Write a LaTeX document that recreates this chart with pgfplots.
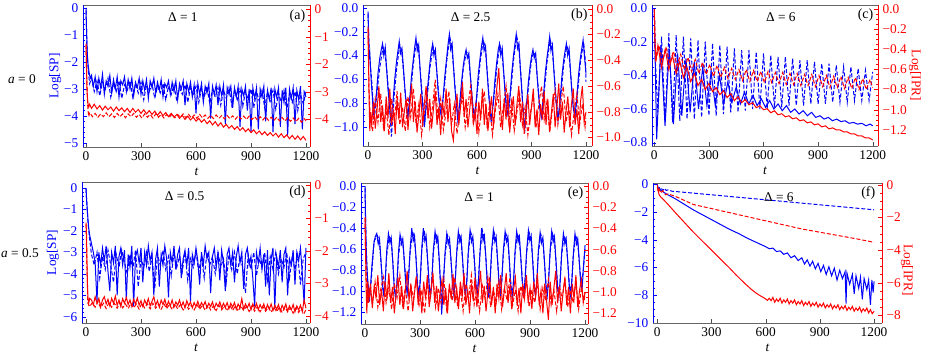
\documentclass[border=0pt]{standalone}
\usepackage{fontspec}
\setmainfont{Liberation Serif}
\usepackage{pgfplots}
\pgfplotsset{compat=1.18}
\pgfkeys{/pgf/number format/1000 sep={}}
\newcommand\mytl[1]{\pgfmathparse{#1<0}\edef\mysgn{\pgfmathresult}\pgfmathparse{abs(#1)}\edef\myabs{\pgfmathresult}\ifdim\mysgn pt>0.5pt\relax −\fi\pgfmathprintnumber[assume math mode=true]{\myabs}}
\pgfplotsset{
  panel/.style={scale only axis, anchor=south west, tick align=inside,
    major tick length=3pt, minor tick length=1.6pt,
    xtick={0,300,600,900,1200}, font=\fontsize{10}{12}\selectfont,
    xticklabel={\mytl{\tick}}, yticklabel={\mytl{\tick}}},
  leftax/.style={panel, separate axis lines,
    x axis line style={draw=black!60}, y axis line style={draw=blue},
    xtick pos=left, ytick pos=left,
    xtick style={black!70}, ytick style={blue}, minor y tick style={blue},
    yticklabel style={blue}, xticklabel style={black}},
  rightax/.style={panel, axis x line=none, axis y line*=right,
    y axis line style={draw=red}, ytick style={red}, minor y tick style={red},
    yticklabel style={red}, xtick=\empty},
  fix1/.style={yticklabel style={/pgf/number format/.cd, fixed, fixed zerofill, precision=1}},
  bs/.style={blue, line width=0.75pt},
  bd/.style={blue, line width=0.75pt, dash pattern=on 3pt off 1.5pt},
  rs/.style={red, line width=0.75pt},
  rd/.style={red, line width=0.75pt, dash pattern=on 3pt off 1.5pt},
  pa/.style={at={(62.25pt,158.25pt)}, width=170.25pt, height=106.5pt, xmin=-16.4, xmax=1221.8},
  pb/.style={at={(272.25pt,159pt)}, width=171.75pt, height=105.75pt, xmin=-27.5, xmax=1233},
  pc/.style={at={(489pt,159pt)}, width=169.5pt, height=105.75pt, xmin=-12.6, xmax=1229},
  pd/.style={at={(61.5pt,26.25pt)}, width=171pt, height=105.75pt, xmin=-21.8, xmax=1222},
  pe/.style={at={(270.75pt,25.5pt)}, width=170.25pt, height=105.75pt, xmin=-21.8, xmax=1216},
  pf/.style={at={(489.75pt,26.25pt)}, width=171.75pt, height=105pt, xmin=-23.8, xmax=1244},
  xl/.style={xlabel={\textit{t}}, x label style={at={(axis description cs:0.5,0)}, anchor=center, yshift=-18.75pt}},
}
\begin{document}
\begin{tikzpicture}
\path[use as bounding box] (0,0) rectangle (694.5pt,268.5pt);
\node[font=\fontsize{10}{12}\selectfont] at (16.5pt,209.25pt) {\textit{a} = 0};
\node[font=\fontsize{10}{12}\selectfont] at (15pt,78.75pt) {\textit{a} = 0.5};

% ---------------- (a)
\begin{axis}[leftax, pa, xl, ymin=-5.15, ymax=0.11, ytick={-5,-4,-3,-2,-1,0}, minor y tick num=4,
  ylabel={Log[SP]}, y label style={blue, at={(axis description cs:-0.123,0.5)}, anchor=center}]
\addplot[bs] coordinates {(0,0)(2,-0.6)(4,-1.1)(6,-1.5)(8,-1.8)(10,-2.0)(13,-2.2)(16,-2.35)(20,-2.5)(25,-2.6)(30,-2.5)
(40,-2.9)(50,-2.55)(60,-3.1)(70,-2.6)(80,-2.95)(90,-2.45)(100,-3.2)(110,-2.7)(120,-2.9)(130,-2.5)(140,-3.15)(150,-2.65)(160,-3.0)(170,-2.55)(180,-3.3)(190,-2.7)(200,-2.85)(210,-2.55)(220,-3.1)(230,-2.65)(240,-3.0)(250,-2.6)(260,-3.25)(270,-2.75)(280,-2.95)(290,-2.6)(300,-3.2)(310,-2.7)(320,-3.05)(330,-2.65)(340,-3.35)(350,-2.7)(360,-2.95)(370,-2.6)(380,-3.15)(390,-2.75)(400,-3.05)(410,-2.65)(420,-3.3)(430,-2.8)(440,-2.95)(450,-2.7)(460,-3.2)(470,-2.75)(480,-3.1)(490,-2.7)(500,-3.4)(510,-2.8)(520,-3.0)(530,-2.7)(540,-3.6)(550,-2.8)(560,-3.1)(570,-2.75)(580,-3.3)(590,-2.85)(600,-3.9)(610,-2.8)(620,-3.2)(630,-2.8)(640,-3.5)(650,-2.9)(660,-3.15)(670,-2.8)(680,-4.1)(690,-2.9)(700,-3.2)(710,-2.85)(720,-3.6)(730,-2.9)(740,-3.25)(750,-2.85)(760,-4.3)(770,-2.95)(780,-3.2)(790,-2.9)(800,-3.7)(810,-2.95)(820,-3.3)(830,-2.9)(840,-4.4)(850,-3.0)(860,-3.25)(870,-2.9)(880,-3.8)(890,-3.0)(900,-4.6)(910,-2.95)(920,-3.35)(930,-2.95)(940,-4.5)(950,-3.0)(960,-3.3)(970,-2.9)(980,-4.2)(990,-3.05)(1000,-3.4)(1010,-2.95)(1020,-4.6)(1030,-3.0)(1040,-3.3)(1050,-2.95)(1060,-4.4)(1070,-3.05)(1080,-3.5)(1090,-2.95)(1100,-4.7)(1110,-3.0)(1120,-3.35)(1130,-2.95)(1140,-4.3)(1150,-3.05)(1160,-3.4)(1170,-2.9)(1180,-4.5)(1190,-3.1)(1200,-3.3)};
\addplot[bd] coordinates {(0,-0.1)(5,-1.3)(10,-2.1)(15,-2.5)(20,-2.8)(30,-2.6)(45,-3.1)(60,-2.7)(75,-3.25)(90,-2.75)(105,-3.0)(120,-2.6)(135,-3.3)(150,-2.8)(165,-3.1)(180,-2.7)(195,-3.35)(210,-2.85)(225,-3.05)(240,-2.7)(255,-3.3)(270,-2.8)(285,-3.15)(300,-2.75)(315,-3.4)(330,-2.85)(345,-3.1)(360,-2.8)(375,-3.35)(390,-2.9)(405,-3.15)(420,-2.8)(435,-3.4)(450,-2.9)(465,-3.2)(480,-2.85)(495,-3.45)(510,-2.95)(525,-3.2)(540,-2.85)(555,-3.5)(570,-2.95)(585,-3.25)(600,-2.9)(615,-3.5)(630,-3.0)(645,-3.3)(660,-2.9)(675,-3.55)(690,-3.0)(705,-3.3)(720,-2.95)(735,-3.6)(750,-3.05)(765,-3.35)(780,-2.95)(795,-3.6)(810,-3.05)(825,-3.4)(840,-3.0)(855,-3.65)(870,-3.1)(885,-3.4)(900,-3.0)(915,-3.7)(930,-3.1)(945,-3.45)(960,-3.05)(975,-3.7)(990,-3.1)(1005,-3.45)(1020,-3.05)(1035,-3.75)(1050,-3.15)(1065,-3.5)(1080,-3.05)(1095,-3.8)(1110,-3.15)(1125,-3.5)(1140,-3.1)(1155,-3.8)(1170,-3.2)(1185,-3.55)(1200,-3.1)};
\node[font=\fontsize{10}{12}\selectfont] at (rel axis cs:0.44,0.915) {Δ = 1};
\node[font=\fontsize{10.5}{12}\selectfont] at (rel axis cs:0.945,0.925) {(a)};
\end{axis}
\begin{axis}[rightax, pa, ymin=-5.0, ymax=0.15, ytick={-4,-3,-2,-1,0}, minor y tick num=4]
\addplot[rs] coordinates {(0,-1.25)(3,-2.2)(6,-3.0)(10,-3.4)(15,-3.55)(20,-3.45)(30,-3.6)(45,-3.45)(60,-3.62)(75,-3.5)(90,-3.66)(105,-3.52)(120,-3.65)(135,-3.55)(150,-3.7)(165,-3.55)(180,-3.68)(195,-3.58)(210,-3.72)(225,-3.6)(240,-3.75)(255,-3.6)(270,-3.74)(285,-3.64)(300,-3.78)(315,-3.65)(330,-3.8)(345,-3.68)(360,-3.82)(375,-3.7)(390,-3.85)(405,-3.72)(420,-3.86)(435,-3.75)(450,-3.9)(465,-3.78)(480,-3.92)(495,-3.82)(510,-3.96)(525,-3.85)(540,-4.0)(555,-3.88)(570,-4.02)(585,-3.92)(600,-4.06)(615,-3.96)(630,-4.1)(645,-4.0)(660,-4.15)(675,-4.05)(690,-4.2)(705,-4.08)(720,-4.24)(735,-4.12)(750,-4.28)(765,-4.18)(780,-4.32)(795,-4.22)(810,-4.36)(825,-4.26)(840,-4.4)(855,-4.3)(870,-4.44)(885,-4.34)(900,-4.48)(915,-4.38)(930,-4.52)(945,-4.42)(960,-4.55)(975,-4.45)(990,-4.58)(1005,-4.48)(1020,-4.6)(1035,-4.5)(1050,-4.64)(1065,-4.52)(1080,-4.66)(1095,-4.56)(1110,-4.7)(1125,-4.58)(1140,-4.72)(1155,-4.6)(1170,-4.74)(1185,-4.62)(1200,-4.76)};
\addplot[rd] coordinates {(0,-1.3)(5,-2.8)(10,-3.6)(15,-3.9)(20,-3.75)(35,-3.9)(50,-3.78)(65,-3.92)(80,-3.8)(95,-3.9)(110,-3.76)(125,-3.9)(140,-3.8)(155,-3.93)(170,-3.78)(185,-3.9)(200,-3.8)(215,-3.94)(230,-3.8)(245,-3.9)(260,-3.78)(275,-3.92)(290,-3.82)(305,-3.95)(320,-3.8)(335,-3.92)(350,-3.82)(365,-3.95)(380,-3.8)(395,-3.92)(410,-3.82)(425,-3.95)(440,-3.82)(455,-3.92)(470,-3.8)(485,-3.94)(500,-3.82)(515,-3.92)(530,-3.8)(545,-3.94)(560,-3.82)(575,-3.95)(590,-3.84)(605,-3.96)(620,-3.82)(635,-3.94)(650,-3.84)(665,-3.96)(680,-3.85)(695,-3.97)(710,-3.84)(725,-3.96)(740,-3.86)(755,-3.98)(770,-3.86)(785,-3.97)(800,-3.87)(815,-3.99)(830,-3.87)(845,-3.98)(860,-3.88)(875,-4.0)(890,-3.88)(905,-4.0)(920,-3.9)(935,-4.02)(950,-3.9)(965,-4.02)(980,-3.9)(995,-4.03)(1010,-3.92)(1025,-4.04)(1040,-3.92)(1055,-4.05)(1070,-3.93)(1085,-4.06)(1100,-3.94)(1115,-4.07)(1130,-3.95)(1145,-4.08)(1160,-3.96)(1175,-4.1)(1190,-3.97)(1200,-4.05)};
\end{axis}

% ---------------- (b)
\begin{axis}[leftax, pb, xl, fix1, ymin=-1.16, ymax=0.025, ytick={-1,-0.8,-0.6,-0.4,-0.2,0}, minor y tick num=3]
\addplot[bs] coordinates {(0,-0.03)(3,-0.2)(6,-0.42)(10,-0.38)(14,-0.5)(18,-0.62)(24,-0.75)(30,-0.9)(36,-0.82)
(45,-0.75)(55,-0.55)(65,-0.42)(73,-0.35)(80,-0.3)(87,-0.4)(95,-0.33)(102,-0.5)(110,-0.68)(118,-0.82)
(126,-0.95)(137,-0.8)(147,-0.6)(157,-0.45)(165,-0.36)(172,-0.28)(179,-0.38)(187,-0.34)(194,-0.48)(202,-0.66)(210,-0.8)
(218,-0.92)(229,-0.78)(239,-0.58)(249,-0.44)(257,-0.33)(264,-0.25)(271,-0.36)(279,-0.31)(286,-0.5)(294,-0.68)(302,-0.84)
(310,-1.0)(321,-0.8)(331,-0.62)(341,-0.46)(349,-0.36)(356,-0.3)(363,-0.4)(371,-0.35)(378,-0.52)(386,-0.7)(394,-0.82)
(402,-0.9)(413,-0.76)(423,-0.57)(433,-0.42)(441,-0.3)(448,-0.22)(455,-0.35)(463,-0.3)(470,-0.48)(478,-0.66)(486,-0.8)
(494,-0.94)(505,-0.8)(515,-0.62)(525,-0.48)(533,-0.4)(540,-0.35)(547,-0.42)(555,-0.38)(562,-0.54)(570,-0.7)(578,-0.84)
(586,-0.92)(597,-0.76)(607,-0.56)(617,-0.42)(625,-0.32)(632,-0.25)(639,-0.36)(647,-0.32)(654,-0.5)(662,-0.68)(670,-0.83)
(678,-0.96)(689,-0.8)(699,-0.6)(709,-0.45)(717,-0.35)(724,-0.3)(731,-0.4)(739,-0.34)(746,-0.52)(754,-0.7)(762,-0.84)
(770,-0.9)(781,-0.75)(791,-0.55)(801,-0.4)(809,-0.3)(816,-0.22)(823,-0.34)(831,-0.3)(838,-0.5)(846,-0.68)(854,-0.86)
(862,-1.02)(873,-0.8)(883,-0.62)(893,-0.48)(901,-0.4)(908,-0.35)(915,-0.42)(923,-0.38)(930,-0.55)(938,-0.72)(946,-0.85)
(954,-0.92)(965,-0.76)(975,-0.56)(985,-0.42)(993,-0.33)(1000,-0.24)(1007,-0.36)(1015,-0.31)(1022,-0.5)(1030,-0.68)(1038,-0.83)
(1046,-0.94)(1057,-0.78)(1067,-0.58)(1077,-0.44)(1085,-0.36)(1092,-0.3)(1099,-0.4)(1107,-0.34)(1114,-0.52)(1122,-0.7)(1130,-0.84)
(1138,-0.92)(1149,-0.76)(1159,-0.56)(1169,-0.42)(1177,-0.34)(1184,-0.27)(1191,-0.4)(1197,-0.5)(1200,-0.55)};
\addplot[bd] coordinates {(0,-0.05)(8,-0.4)(20,-0.6)(34,-0.95)
(50,-0.7)(65,-0.5)(75,-0.4)(83,-0.33)(93,-0.38)(105,-0.55)(117,-0.78)(129,-1.08)
(145,-0.72)(157,-0.52)(167,-0.4)(175,-0.31)(185,-0.36)(197,-0.56)(209,-0.8)(221,-0.9)
(237,-0.68)(249,-0.48)(259,-0.36)(267,-0.28)(277,-0.34)(289,-0.55)(301,-0.78)(313,-0.95)
(329,-0.7)(341,-0.5)(351,-0.4)(359,-0.33)(369,-0.38)(381,-0.57)(393,-0.8)(405,-0.88)
(421,-0.66)(433,-0.45)(443,-0.33)(451,-0.25)(461,-0.32)(473,-0.54)(485,-0.78)(497,-0.92)
(513,-0.7)(525,-0.5)(535,-0.42)(543,-0.37)(553,-0.4)(565,-0.6)(577,-0.82)(589,-0.9)
(605,-0.66)(617,-0.46)(627,-0.35)(635,-0.27)(645,-0.33)(657,-0.55)(669,-0.8)(681,-0.93)
(697,-0.7)(709,-0.5)(719,-0.38)(727,-0.32)(737,-0.37)(749,-0.58)(761,-0.82)(773,-0.88)
(789,-0.65)(801,-0.44)(811,-0.32)(819,-0.24)(829,-0.32)(841,-0.54)(853,-0.84)(862,-1.05)
(881,-0.7)(893,-0.52)(903,-0.42)(911,-0.37)(921,-0.4)(933,-0.6)(945,-0.82)(957,-0.9)
(973,-0.66)(985,-0.46)(995,-0.35)(1003,-0.27)(1013,-0.33)(1025,-0.55)(1037,-0.8)(1049,-0.92)
(1065,-0.68)(1077,-0.48)(1087,-0.38)(1095,-0.32)(1105,-0.37)(1117,-0.58)(1129,-0.82)(1141,-0.9)
(1157,-0.66)(1169,-0.46)(1179,-0.36)(1187,-0.29)(1197,-0.45)(1200,-0.62)};
\node[font=\fontsize{10}{12}\selectfont] at (rel axis cs:0.47,0.915) {Δ = 2.5};
\node[font=\fontsize{10.5}{12}\selectfont] at (rel axis cs:0.945,0.925) {(b)};
\end{axis}
\begin{axis}[rightax, pb, fix1, ymin=-1.065, ymax=0.03, ytick={-1,-0.8,-0.6,-0.4,-0.2,0}, minor y tick num=3]
\addplot[rs] coordinates {(0,-0.14)(3,-0.4)(6,-0.7)(10,-0.95)(15,-0.8)(20,-0.9)(30,-0.72)(40,-0.93)(50,-0.78)(60,-0.6)(70,-0.88)(80,-0.75)(90,-0.95)(100,-0.68)(110,-0.85)(120,-0.62)(130,-0.9)(140,-0.78)(150,-0.97)(160,-0.7)(170,-0.86)(180,-0.65)(190,-0.92)(200,-0.8)(210,-0.7)(220,-0.94)(230,-0.76)(240,-0.58)(250,-0.88)(260,-0.72)(270,-0.96)(280,-0.82)(290,-0.66)(300,-0.9)(310,-0.74)(320,-0.6)(330,-0.85)(340,-0.7)(350,-0.93)(360,-0.78)(370,-0.64)(380,-0.9)(390,-0.76)(400,-0.98)(410,-0.72)(420,-0.84)(430,-0.62)(440,-0.88)(450,-0.7)(460,-0.95)(470,-1.02)(480,-0.8)(490,-0.66)(500,-0.9)(510,-0.75)(520,-0.57)(530,-0.84)(540,-0.7)(550,-0.92)(560,-0.78)(570,-0.64)(580,-0.9)(590,-0.8)(600,-0.97)(610,-0.72)(620,-0.86)(630,-0.62)(640,-0.9)(650,-0.74)(660,-0.95)(670,-0.8)(680,-0.68)(690,-0.92)(700,-0.75)(710,-0.6)(720,-0.46)(730,-0.78)(740,-0.94)(750,-0.7)(760,-0.86)(770,-0.65)(780,-0.96)(790,-0.8)(800,-0.68)(810,-0.9)(820,-0.74)(830,-0.6)(840,-0.88)(850,-0.72)(860,-0.97)(870,-0.82)(880,-0.66)(890,-0.9)(900,-0.76)(910,-0.62)(920,-0.92)(930,-0.78)(940,-0.98)(950,-0.74)(960,-0.86)(970,-0.64)(980,-0.9)(990,-0.7)(1000,-0.95)(1010,-0.8)(1020,-0.66)(1030,-0.92)(1040,-0.76)(1050,-0.58)(1060,-0.86)(1070,-0.72)(1080,-0.96)(1090,-0.8)(1100,-0.68)(1110,-0.92)(1120,-0.74)(1130,-0.62)(1140,-0.9)(1150,-0.78)(1160,-0.97)(1170,-0.72)(1180,-0.6)(1190,-0.88)(1200,-0.8)};
\addplot[rd] coordinates {(0,-0.16)(5,-0.6)(12,-0.85)(25,-0.95)(40,-0.7)(55,-0.88)(70,-0.66)(85,-0.92)(100,-0.78)(115,-0.98)(130,-0.7)(145,-0.86)(160,-0.64)(175,-0.9)(190,-0.76)(205,-0.95)(220,-0.68)(235,-0.84)(250,-0.62)(265,-0.9)(280,-0.74)(295,-0.98)(310,-0.8)(325,-0.66)(340,-0.92)(355,-0.76)(370,-0.55)(385,-0.86)(400,-0.7)(415,-0.94)(430,-0.8)(445,-0.64)(460,-0.9)(475,-0.74)(490,-0.97)(505,-0.8)(520,-0.68)(535,-0.92)(550,-0.75)(565,-0.6)(580,-0.88)(595,-0.72)(610,-0.96)(625,-0.78)(640,-0.64)(655,-0.9)(670,-0.74)(685,-0.98)(700,-0.8)(715,-0.66)(730,-0.92)(745,-0.76)(760,-0.6)(775,-0.88)(790,-0.72)(805,-0.95)(820,-0.8)(835,-0.66)(850,-0.9)(865,-0.76)(880,-0.98)(895,-0.8)(910,-0.68)(925,-0.92)(940,-0.74)(955,-0.6)(970,-0.86)(985,-0.72)(1000,-0.96)(1015,-0.78)(1030,-0.64)(1045,-0.9)(1060,-0.74)(1075,-0.6)(1090,-0.88)(1105,-0.76)(1120,-0.98)(1135,-0.8)(1150,-0.66)(1165,-0.9)(1180,-0.74)(1195,-0.92)(1200,-0.85)};
\end{axis}

% ---------------- (c)
\begin{axis}[leftax, pc, xl, fix1, ymin=-0.82, ymax=0.018, ytick={-0.8,-0.6,-0.4,-0.2,0}, minor y tick num=3]
\addplot[bs] coordinates {(0,0)(4,-0.25)(13,-0.78)(36,-0.22)(59,-0.70)(82,-0.24)(105,-0.69)(128,-0.27)(151,-0.64)(174,-0.3)(197,-0.62)(220,-0.32)(243,-0.6)(266,-0.35)(289,-0.58)(312,-0.38)(335,-0.58)(358,-0.4)(381,-0.57)(404,-0.44)(427,-0.56)(450,-0.47)(473,-0.57)(496,-0.5)(519,-0.57)(542,-0.52)(565,-0.58)(588,-0.54)(611,-0.59)(634,-0.55)(657,-0.6)(680,-0.57)(703,-0.61)(726,-0.58)(749,-0.62)(772,-0.6)(795,-0.63)(818,-0.61)(841,-0.64)(864,-0.62)(887,-0.65)(910,-0.64)(933,-0.66)(956,-0.65)(979,-0.67)(1002,-0.66)(1025,-0.675)(1048,-0.67)(1071,-0.685)(1094,-0.68)(1117,-0.69)(1140,-0.685)(1163,-0.7)(1186,-0.69)(1200,-0.7)};
\addplot[bd] coordinates {(0,0)(5,-0.3)(20,-0.62)(40,-0.17)(60,-0.68)(80,-0.15)(100,-0.68)(120,-0.16)(140,-0.67)(160,-0.17)(180,-0.66)(200,-0.18)(220,-0.66)(240,-0.19)(260,-0.65)(280,-0.2)(300,-0.64)(320,-0.21)(340,-0.64)(360,-0.22)(380,-0.63)(400,-0.23)(420,-0.62)(440,-0.24)(460,-0.62)(480,-0.25)(500,-0.61)(520,-0.25)(540,-0.6)(560,-0.26)(580,-0.6)(600,-0.27)(620,-0.6)(640,-0.28)(660,-0.59)(680,-0.29)(700,-0.59)(720,-0.29)(740,-0.58)(760,-0.3)(780,-0.58)(800,-0.31)(820,-0.58)(840,-0.31)(860,-0.57)(880,-0.32)(900,-0.57)(920,-0.33)(940,-0.57)(960,-0.33)(980,-0.56)(1000,-0.34)(1020,-0.56)(1040,-0.35)(1060,-0.56)(1080,-0.35)(1100,-0.55)(1120,-0.36)(1140,-0.55)(1160,-0.37)(1180,-0.55)(1200,-0.38)};
\node[font=\fontsize{10}{12}\selectfont] at (rel axis cs:0.57,0.915) {Δ = 6};
\node[font=\fontsize{10.5}{12}\selectfont] at (rel axis cs:0.945,0.925) {(c)};
\end{axis}
\begin{axis}[rightax, pc, fix1, ymin=-1.36, ymax=0.04, ytick={-1.2,-1,-0.8,-0.6,-0.4,-0.2,0}, minor y tick num=3,
  ylabel={Log[IPR]}, y label style={red, rotate=180, at={(axis description cs:1.164,0.5)}, anchor=center}]
\addplot[rs] coordinates {(0,0)(3,-0.3)(8,-0.52)(20,-0.36)(40,-0.58)(60,-0.4)(80,-0.6)(100,-0.46)(120,-0.64)(140,-0.52)(160,-0.68)(180,-0.58)(200,-0.72)(220,-0.64)(240,-0.76)(260,-0.7)(280,-0.8)(300,-0.74)(320,-0.82)(340,-0.78)(360,-0.85)(380,-0.81)(400,-0.88)(420,-0.84)(440,-0.91)(460,-0.87)(480,-0.93)(500,-0.9)(520,-0.95)(540,-0.93)(560,-0.98)(580,-0.96)(600,-1.0)(620,-0.99)(640,-1.03)(660,-1.01)(680,-1.05)(700,-1.04)(720,-1.07)(740,-1.06)(760,-1.09)(780,-1.08)(800,-1.11)(820,-1.1)(840,-1.13)(860,-1.12)(880,-1.15)(900,-1.14)(920,-1.17)(940,-1.16)(960,-1.19)(980,-1.18)(1000,-1.2)(1020,-1.2)(1040,-1.22)(1060,-1.22)(1080,-1.24)(1100,-1.24)(1120,-1.26)(1140,-1.26)(1160,-1.28)(1180,-1.28)(1200,-1.3)};
\addplot[rd] coordinates {(0,0)(4,-0.3)(10,-0.5)(25,-0.36)(45,-0.52)(65,-0.38)(85,-0.54)(105,-0.42)(125,-0.56)(145,-0.45)(165,-0.6)(185,-0.48)(205,-0.62)(225,-0.5)(245,-0.64)(265,-0.53)(285,-0.65)(305,-0.55)(325,-0.67)(345,-0.56)(365,-0.68)(385,-0.58)(405,-0.69)(425,-0.59)(445,-0.7)(465,-0.6)(485,-0.71)(505,-0.6)(525,-0.72)(545,-0.61)(565,-0.72)(585,-0.62)(605,-0.73)(625,-0.62)(645,-0.73)(665,-0.63)(685,-0.74)(705,-0.63)(725,-0.75)(745,-0.64)(765,-0.75)(785,-0.64)(805,-0.76)(825,-0.65)(845,-0.76)(865,-0.65)(885,-0.77)(905,-0.66)(925,-0.77)(945,-0.66)(965,-0.78)(985,-0.67)(1005,-0.78)(1025,-0.67)(1045,-0.79)(1065,-0.68)(1085,-0.79)(1105,-0.68)(1125,-0.8)(1145,-0.69)(1165,-0.8)(1185,-0.7)(1200,-0.78)};
\end{axis}

% ---------------- (d)
\begin{axis}[leftax, pd, xl, ymin=-6.29, ymax=0.27, ytick={-6,-5,-4,-3,-2,-1,0}, minor y tick num=4,
  ylabel={Log[SP]}, y label style={blue, at={(axis description cs:-0.127,0.5)}, anchor=center}]
\addplot[bs] coordinates {(0,0)(3,-0.5)(6,-0.9)(10,-1.4)(15,-1.9)(20,-2.2)(30,-2.6)(40,-3.0)(50,-3.5)(60,-5.3)(70,-3.0)(80,-3.6)(90,-2.8)(100,-3.4)(110,-2.7)(120,-3.9)(130,-4.8)(140,-3.0)(150,-3.5)(160,-2.7)(170,-5.0)(180,-3.2)(190,-2.8)(200,-3.6)(210,-2.9)(220,-5.2)(230,-3.1)(240,-3.7)(250,-2.7)(260,-5.5)(270,-3.2)(280,-2.9)(290,-3.5)(300,-2.8)(310,-4.4)(320,-3.0)(330,-3.6)(340,-2.7)(350,-3.4)(360,-3.0)(370,-5.0)(380,-3.3)(390,-2.8)(400,-4.6)(410,-3.1)(420,-3.6)(430,-2.7)(440,-3.3)(450,-5.1)(460,-3.0)(470,-3.5)(480,-2.7)(490,-3.8)(500,-3.1)(510,-2.8)(520,-4.2)(530,-3.3)(540,-2.9)(550,-3.6)(560,-2.8)(570,-5.3)(580,-3.1)(590,-3.5)(600,-2.8)(610,-3.4)(620,-4.5)(630,-3.0)(640,-3.6)(650,-2.7)(660,-3.3)(670,-3.0)(680,-4.9)(690,-3.2)(700,-2.8)(710,-3.7)(720,-3.0)(730,-4.3)(740,-2.9)(750,-3.5)(760,-4.8)(770,-3.1)(780,-2.8)(790,-3.6)(800,-3.0)(810,-4.4)(820,-3.2)(830,-2.7)(840,-3.5)(850,-3.0)(860,-4.7)(870,-3.1)(880,-2.8)(890,-3.6)(900,-3.2)(910,-4.2)(920,-5.5)(930,-3.0)(940,-3.5)(950,-2.8)(960,-3.8)(970,-3.1)(980,-4.6)(990,-2.9)(1000,-5.0)(1010,-3.3)(1020,-2.8)(1030,-5.6)(1040,-3.2)(1050,-3.7)(1060,-2.9)(1070,-4.4)(1080,-3.1)(1090,-2.8)(1100,-5.0)(1110,-3.3)(1120,-3.6)(1130,-2.9)(1140,-4.5)(1150,-3.0)(1160,-3.4)(1170,-2.8)(1180,-4.0)(1190,-5.4)(1200,-2.8)};
\addplot[bd] coordinates {(0,-0.05)(5,-0.8)(12,-1.7)(20,-2.4)(30,-3.1)(45,-3.6)(60,-3.0)(75,-4.2)(90,-3.2)(105,-3.8)(120,-2.9)(135,-3.6)(150,-4.4)(165,-3.1)(180,-3.7)(195,-2.9)(210,-3.5)(225,-4.0)(240,-3.1)(255,-3.8)(270,-2.9)(285,-4.6)(300,-3.3)(315,-3.7)(330,-3.0)(345,-3.9)(360,-3.2)(375,-4.7)(390,-3.1)(405,-3.6)(420,-2.9)(435,-3.8)(450,-3.2)(465,-4.1)(480,-3.0)(495,-3.7)(510,-3.2)(525,-3.9)(540,-3.0)(555,-4.3)(570,-3.3)(585,-3.7)(600,-3.0)(615,-3.9)(630,-3.2)(645,-4.2)(660,-3.0)(675,-3.6)(690,-3.2)(705,-4.0)(720,-3.0)(735,-3.7)(750,-3.3)(765,-4.4)(780,-3.1)(795,-3.8)(810,-3.0)(825,-4.0)(840,-3.2)(855,-3.7)(870,-4.9)(885,-3.1)(900,-3.8)(915,-3.0)(930,-4.1)(945,-3.3)(960,-3.7)(975,-3.0)(990,-4.3)(1005,-3.2)(1020,-3.8)(1035,-3.0)(1050,-4.0)(1065,-3.3)(1080,-3.7)(1095,-3.0)(1110,-4.2)(1125,-3.2)(1140,-3.8)(1155,-3.1)(1170,-4.5)(1185,-3.3)(1200,-3.0)};
\node[font=\fontsize{10}{12}\selectfont] at (rel axis cs:0.45,0.9) {Δ = 0.5};
\node[font=\fontsize{10.5}{12}\selectfont] at (rel axis cs:0.945,0.925) {(d)};
\end{axis}
\begin{axis}[rightax, pd, ymin=-4.2, ymax=0.09, ytick={-4,-3,-2,-1,0}, minor y tick num=4]
\addplot[rs] coordinates {(0,-1.15)(3,-1.5)(6,-2.6)(10,-3.4)(15,-3.6)(20,-3.45)(30,-3.5)(40,-3.65)(50,-3.4)(60,-3.6)(70,-3.45)(80,-3.7)(90,-3.5)(100,-3.4)(110,-3.62)(120,-3.48)(130,-3.68)(140,-3.45)(150,-3.6)(160,-3.38)(170,-3.66)(180,-3.5)(190,-3.7)(200,-3.46)(210,-3.6)(220,-3.42)(230,-3.64)(240,-3.5)(250,-3.7)(260,-3.48)(270,-3.62)(280,-3.44)(290,-3.66)(300,-3.52)(310,-3.7)(320,-3.5)(330,-3.64)(340,-3.46)(350,-3.68)(360,-3.54)(370,-3.4)(380,-3.66)(390,-3.52)(400,-3.72)(410,-3.5)(420,-3.64)(430,-3.48)(440,-3.7)(450,-3.54)(460,-3.68)(470,-3.5)(480,-3.72)(490,-3.56)(500,-3.66)(510,-3.5)(520,-3.7)(530,-3.56)(540,-3.74)(550,-3.52)(560,-3.68)(570,-3.56)(580,-3.74)(590,-3.58)(600,-3.7)(610,-3.54)(620,-3.72)(630,-3.58)(640,-3.68)(650,-3.55)(660,-3.74)(670,-3.6)(680,-3.7)(690,-3.56)(700,-3.76)(710,-3.6)(720,-3.7)(730,-3.56)(740,-3.74)(750,-3.6)(760,-3.72)(770,-3.58)(780,-3.76)(790,-3.6)(800,-3.72)(810,-3.58)(820,-3.78)(830,-3.62)(840,-3.74)(850,-3.46)(860,-3.78)(870,-3.62)(880,-3.74)(890,-3.6)(900,-3.8)(910,-3.62)(920,-3.76)(930,-3.6)(940,-3.8)(950,-3.64)(960,-3.76)(970,-3.62)(980,-3.82)(990,-3.64)(1000,-3.78)(1010,-3.62)(1020,-3.82)(1030,-3.66)(1040,-3.78)(1050,-3.64)(1060,-3.84)(1070,-3.66)(1080,-3.78)(1090,-3.62)(1100,-3.84)(1110,-3.68)(1120,-3.8)(1130,-3.64)(1140,-3.86)(1150,-3.68)(1160,-3.8)(1170,-3.66)(1180,-3.86)(1190,-3.5)(1200,-3.75)};
\addplot[rd] coordinates {(0,-1.2)(5,-2.4)(10,-3.6)(20,-3.7)(35,-3.58)(50,-3.72)(65,-3.55)(80,-3.74)(95,-3.6)(110,-3.76)(125,-3.58)(140,-3.72)(155,-3.6)(170,-3.75)(185,-3.58)(200,-3.74)(215,-3.62)(230,-3.76)(245,-3.6)(260,-3.74)(275,-3.62)(290,-3.78)(305,-3.6)(320,-3.74)(335,-3.62)(350,-3.77)(365,-3.6)(380,-3.75)(395,-3.63)(410,-3.78)(425,-3.62)(440,-3.76)(455,-3.64)(470,-3.79)(485,-3.62)(500,-3.77)(515,-3.64)(530,-3.8)(545,-3.64)(560,-3.78)(575,-3.66)(590,-3.8)(605,-3.64)(620,-3.78)(635,-3.66)(650,-3.81)(665,-3.66)(680,-3.8)(695,-3.68)(710,-3.82)(725,-3.66)(740,-3.8)(755,-3.68)(770,-3.83)(785,-3.66)(800,-3.82)(815,-3.68)(830,-3.84)(845,-3.68)(860,-3.82)(875,-3.7)(890,-3.85)(905,-3.68)(920,-3.84)(935,-3.7)(950,-3.86)(965,-3.7)(980,-3.84)(995,-3.72)(1010,-3.87)(1025,-3.72)(1040,-3.86)(1055,-3.72)(1070,-3.88)(1085,-3.72)(1100,-3.86)(1115,-3.74)(1130,-3.9)(1145,-3.74)(1160,-3.88)(1175,-3.74)(1190,-3.9)(1200,-3.8)};
\end{axis}

% ---------------- (e)
\begin{axis}[leftax, pe, xl, fix1, ymin=-1.31, ymax=0.03, ytick={-1.2,-1,-0.8,-0.6,-0.4,-0.2,0}, minor y tick num=3]
\addplot[bs] coordinates {(0,0)(3,-0.3)(6,-0.55)(10,-0.75)(15,-0.9)(22,-1.05)(30,-0.95)(38,-0.75)(48,-0.55)(56,-0.48)
(64,-0.45)(72,-0.55)(79,-0.5)(87,-0.7)(95,-0.93)(103,-1.05)(111,-0.88)(119,-0.6)
(128,-0.45)(136,-0.54)(143,-0.49)(151,-0.7)(159,-0.95)(167,-1.08)(175,-0.9)(183,-0.62)
(191,-0.46)(199,-0.55)(206,-0.5)(214,-0.7)(222,-0.92)(230,-1.02)(238,-0.86)(246,-0.6)
(255,-0.4)(263,-0.52)(270,-0.47)(278,-0.68)(286,-0.94)(294,-1.04)(302,-0.88)(310,-0.58)
(318,-0.4)(326,-0.52)(333,-0.47)(341,-0.68)(349,-0.92)(357,-1.06)(365,-0.88)(373,-0.6)
(382,-0.43)(390,-0.53)(397,-0.48)(405,-0.7)(413,-0.98)(418,-1.22)(429,-0.88)(437,-0.62)
(446,-0.45)(454,-0.55)(461,-0.5)(469,-0.7)(477,-0.93)(485,-1.04)(493,-0.87)(501,-0.6)
(509,-0.43)(517,-0.53)(524,-0.48)(532,-0.69)(540,-0.94)(548,-1.05)(556,-0.88)(564,-0.6)
(573,-0.42)(581,-0.53)(588,-0.48)(596,-0.69)(604,-0.92)(612,-1.02)(620,-0.86)(628,-0.6)
(636,-0.4)(644,-0.52)(651,-0.47)(659,-0.68)(667,-0.94)(675,-1.06)(683,-0.88)(691,-0.6)
(700,-0.42)(708,-0.53)(715,-0.48)(723,-0.7)(731,-0.93)(739,-1.04)(747,-0.86)(755,-0.6)
(764,-0.43)(772,-0.53)(779,-0.48)(787,-0.7)(795,-0.95)(803,-1.06)(811,-0.88)(819,-0.6)
(827,-0.43)(835,-0.53)(842,-0.48)(850,-0.69)(858,-0.92)(866,-1.03)(874,-0.86)(882,-0.6)
(891,-0.42)(899,-0.52)(906,-0.47)(914,-0.69)(922,-0.94)(930,-1.05)(938,-0.88)(946,-0.6)
(955,-0.44)(963,-0.54)(970,-0.49)(978,-0.7)(986,-0.93)(994,-1.04)(1002,-0.87)(1010,-0.6)
(1018,-0.43)(1026,-0.53)(1033,-0.48)(1041,-0.7)(1049,-0.94)(1057,-1.05)(1065,-0.88)(1073,-0.62)
(1082,-0.45)(1090,-0.55)(1097,-0.5)(1105,-0.7)(1113,-0.93)(1121,-1.04)(1129,-0.87)(1137,-0.62)
(1145,-0.45)(1153,-0.55)(1160,-0.5)(1168,-0.7)(1176,-0.92)(1184,-0.98)(1192,-0.75)(1200,-0.56)};
\addplot[bd] coordinates {(0,-0.02)(5,-0.5)(12,-0.85)(24,-1.1)(36,-0.85)(50,-0.52)
(68,-0.47)(78,-0.52)(88,-0.74)(98,-0.98)(108,-0.96)(118,-0.66)
(132,-0.48)(142,-0.5)(152,-0.73)(162,-1.0)(172,-0.98)(182,-0.68)
(195,-0.48)(205,-0.52)(215,-0.72)(225,-0.97)(235,-0.94)(245,-0.65)
(259,-0.43)(269,-0.49)(279,-0.7)(289,-0.99)(299,-0.96)(309,-0.62)
(322,-0.42)(332,-0.5)(342,-0.72)(352,-1.0)(362,-0.98)(372,-0.64)
(386,-0.45)(396,-0.51)(406,-0.74)(416,-1.04)(426,-0.95)(436,-0.66)
(450,-0.47)(460,-0.52)(470,-0.73)(480,-0.98)(490,-0.96)(500,-0.64)
(513,-0.45)(523,-0.5)(533,-0.72)(543,-0.99)(553,-0.97)(563,-0.64)
(577,-0.44)(587,-0.5)(597,-0.73)(607,-0.97)(617,-0.95)(627,-0.64)
(640,-0.42)(650,-0.49)(660,-0.7)(670,-0.99)(680,-0.97)(690,-0.63)
(704,-0.44)(714,-0.5)(724,-0.73)(734,-0.98)(744,-0.96)(754,-0.64)
(768,-0.45)(778,-0.5)(788,-0.73)(798,-1.0)(808,-0.97)(818,-0.64)
(831,-0.45)(841,-0.5)(851,-0.72)(861,-0.97)(871,-0.95)(881,-0.64)
(895,-0.44)(905,-0.49)(915,-0.72)(925,-0.99)(935,-0.96)(945,-0.64)
(959,-0.46)(969,-0.51)(979,-0.73)(989,-0.98)(999,-0.96)(1009,-0.64)
(1022,-0.45)(1032,-0.5)(1042,-0.73)(1052,-0.99)(1062,-0.96)(1072,-0.66)
(1086,-0.47)(1096,-0.52)(1106,-0.73)(1116,-0.98)(1126,-0.95)(1136,-0.66)
(1149,-0.47)(1159,-0.52)(1169,-0.73)(1179,-0.95)(1189,-0.82)(1200,-0.6)};
\node[font=\fontsize{10}{12}\selectfont] at (rel axis cs:0.52,0.9) {Δ = 1};
\node[font=\fontsize{10.5}{12}\selectfont] at (rel axis cs:0.945,0.925) {(e)};
\end{axis}
\begin{axis}[rightax, pe, fix1, ymin=-1.30, ymax=0.03, ytick={-1.2,-1,-0.8,-0.6,-0.4,-0.2,0}, minor y tick num=3]
\addplot[rs] coordinates {(0,-0.29)(3,-0.6)(6,-0.95)(10,-1.2)(15,-0.9)(20,-1.1)(30,-0.92)(40,-1.15)(50,-0.95)(60,-1.05)(70,-0.84)(80,-1.12)(90,-0.97)(100,-1.18)(110,-0.9)(120,-1.06)(130,-0.82)(140,-1.1)(150,-0.95)(160,-1.2)(170,-1.0)(180,-0.86)(190,-1.12)(200,-0.94)(210,-1.16)(220,-0.98)(230,-0.8)(240,-1.08)(250,-0.92)(260,-1.18)(270,-1.0)(280,-0.85)(290,-1.12)(300,-0.96)(310,-1.2)(320,-0.9)(330,-1.06)(340,-0.84)(350,-1.14)(360,-0.98)(370,-0.82)(380,-1.1)(390,-0.94)(400,-1.18)(410,-1.0)(420,-0.88)(430,-1.12)(440,-0.96)(450,-1.2)(460,-0.92)(470,-1.06)(480,-0.83)(490,-1.1)(500,-0.96)(510,-1.16)(520,-0.9)(530,-1.04)(540,-0.82)(550,-1.12)(560,-0.98)(570,-1.2)(580,-0.92)(590,-1.08)(600,-0.86)(610,-1.14)(620,-0.98)(630,-0.8)(640,-1.1)(650,-0.94)(660,-1.18)(670,-1.0)(680,-0.86)(690,-1.12)(700,-0.95)(710,-1.2)(720,-0.92)(730,-1.06)(740,-0.84)(750,-1.14)(760,-0.98)(770,-0.82)(780,-1.1)(790,-0.94)(800,-1.16)(810,-0.98)(820,-0.86)(830,-1.12)(840,-0.96)(850,-1.2)(860,-0.92)(870,-1.06)(880,-0.84)(890,-1.1)(900,-0.96)(910,-1.16)(920,-0.9)(930,-1.04)(940,-0.82)(950,-1.12)(960,-0.98)(970,-1.2)(980,-0.92)(990,-1.08)(1000,-1.26)(1010,-0.9)(1020,-1.12)(1030,-0.96)(1040,-0.8)(1050,-1.1)(1060,-0.94)(1070,-1.18)(1080,-1.0)(1090,-0.86)(1100,-1.12)(1110,-0.95)(1120,-1.2)(1130,-0.92)(1140,-1.06)(1150,-0.84)(1160,-1.14)(1170,-0.98)(1180,-0.88)(1190,-1.1)(1200,-1.0)};
\addplot[rd] coordinates {(0,-0.3)(5,-0.8)(12,-1.1)(25,-0.95)(40,-1.1)(55,-0.9)(70,-1.14)(85,-0.98)(100,-0.86)(115,-1.1)(130,-0.96)(145,-1.16)(160,-0.92)(175,-1.05)(190,-0.84)(205,-1.12)(220,-0.96)(235,-1.18)(250,-0.94)(265,-1.06)(280,-0.86)(295,-1.12)(310,-0.98)(325,-1.2)(340,-0.92)(355,-1.06)(370,-0.84)(385,-1.14)(400,-0.96)(415,-1.1)(430,-0.88)(445,-1.16)(460,-0.96)(475,-1.08)(490,-0.86)(505,-1.14)(520,-0.98)(535,-1.18)(550,-0.92)(565,-1.06)(580,-0.84)(595,-1.12)(610,-0.96)(625,-1.18)(640,-0.94)(655,-1.06)(670,-0.86)(685,-1.14)(700,-0.98)(715,-1.1)(730,-0.9)(745,-1.16)(760,-0.96)(775,-1.08)(790,-0.86)(805,-1.12)(820,-0.98)(835,-1.18)(850,-0.94)(865,-1.06)(880,-0.88)(895,-1.14)(910,-0.98)(925,-1.1)(940,-0.9)(955,-1.16)(970,-0.96)(985,-1.08)(1000,-0.88)(1015,-1.12)(1030,-0.98)(1045,-1.18)(1060,-0.94)(1075,-1.06)(1090,-0.88)(1105,-1.14)(1120,-0.98)(1135,-1.1)(1150,-0.9)(1165,-1.16)(1180,-0.96)(1195,-1.08)(1200,-1.0)};
\end{axis}

% ---------------- (f)
\begin{axis}[leftax, pf, xl, ymin=-10, ymax=0.09, ytick={-10,-8,-6,-4,-2,0}, minor y tick num=3]
\addplot[bs] coordinates {(0,0)(5,-0.3)(15,-0.4)(50,-0.7)(100,-1.05)(150,-1.45)(200,-1.85)(250,-2.2)(300,-2.55)(350,-2.9)(400,-3.25)(450,-3.55)(500,-3.9)(550,-4.2)(600,-4.5)(620,-4.65)(640,-4.6)(660,-4.85)(680,-4.8)(700,-5.05)(720,-4.95)(740,-5.3)(760,-5.15)(780,-5.5)(800,-5.3)(815,-5.75)(830,-5.45)(845,-5.9)(860,-5.55)(875,-6.1)(890,-5.7)(905,-6.3)(920,-5.85)(935,-6.5)(950,-5.95)(965,-6.6)(980,-6.05)(995,-6.9)(1010,-6.2)(1025,-6.8)(1040,-6.3)(1045,-8.6)(1050,-6.4)(1065,-7.2)(1080,-6.5)(1090,-7.9)(1100,-6.6)(1115,-7.5)(1125,-6.7)(1135,-8.3)(1145,-6.8)(1160,-7.6)(1170,-6.9)(1180,-8.7)(1188,-6.9)(1195,-7.8)(1200,-7.0)};
\addplot[bd] coordinates {(0,-0.1)(5,-0.35)(10,-0.2)(15,-0.4)(20,-0.25)(30,-0.45)(40,-0.3)(50,-0.45)(60,-0.4)(80,-0.5)(200,-0.64)(400,-0.88)(600,-1.12)(800,-1.36)(1000,-1.6)(1200,-1.84)};
\node[font=\fontsize{10}{12}\selectfont] at (rel axis cs:0.55,0.9) {Δ = 6};
\node[font=\fontsize{10.5}{12}\selectfont] at (rel axis cs:0.94,0.925) {(f)};
\end{axis}
\begin{axis}[rightax, pf, ymin=-8.47, ymax=0.12, ytick={-8,-6,-4,-2,0}, minor y tick num=3,
  ylabel={Log[IPR]}, y label style={red, rotate=180, at={(axis description cs:1.109,0.379)}, anchor=center}]
\addplot[rs] coordinates {(0,0)(5,-0.35)(10,-0.6)(20,-0.75)(30,-0.85)(60,-1.2)(100,-1.7)(150,-2.3)(200,-2.9)(250,-3.45)(300,-4.0)(350,-4.55)(400,-5.1)(430,-5.45)(460,-5.78)(490,-6.1)(520,-6.4)(545,-6.62)(570,-6.8)(590,-6.92)(610,-7.08)(620,-6.95)(630,-7.1)(640,-6.9)(650,-7.2)(660,-7.0)(670,-7.15)(680,-6.95)(690,-7.25)(700,-7.05)(710,-7.2)(720,-7.0)(730,-7.3)(740,-7.1)(750,-7.25)(760,-7.05)(770,-7.35)(780,-7.15)(790,-7.3)(800,-7.1)(810,-7.4)(820,-7.2)(830,-7.35)(840,-7.15)(850,-7.45)(860,-7.25)(870,-7.4)(880,-7.2)(890,-7.5)(900,-7.3)(910,-7.45)(920,-7.25)(930,-7.55)(940,-7.35)(950,-7.5)(960,-7.3)(970,-7.6)(980,-7.4)(990,-7.55)(1000,-7.35)(1010,-7.65)(1020,-7.45)(1030,-7.6)(1040,-7.4)(1050,-7.7)(1060,-7.5)(1070,-7.65)(1080,-7.45)(1090,-7.75)(1100,-7.55)(1110,-7.7)(1120,-7.5)(1130,-7.8)(1140,-7.6)(1150,-7.75)(1160,-7.55)(1170,-7.85)(1180,-7.65)(1190,-7.9)(1200,-7.75)};
\addplot[rd] coordinates {(0,-0.15)(5,-0.4)(10,-0.25)(20,-0.5)(30,-0.35)(45,-0.6)(60,-0.55)(100,-0.7)(200,-1.2)(300,-1.45)(400,-1.7)(500,-1.95)(600,-2.2)(700,-2.45)(800,-2.7)(900,-2.9)(1000,-3.1)(1100,-3.3)(1200,-3.52)};
\end{axis}
\end{tikzpicture}
\end{document}
